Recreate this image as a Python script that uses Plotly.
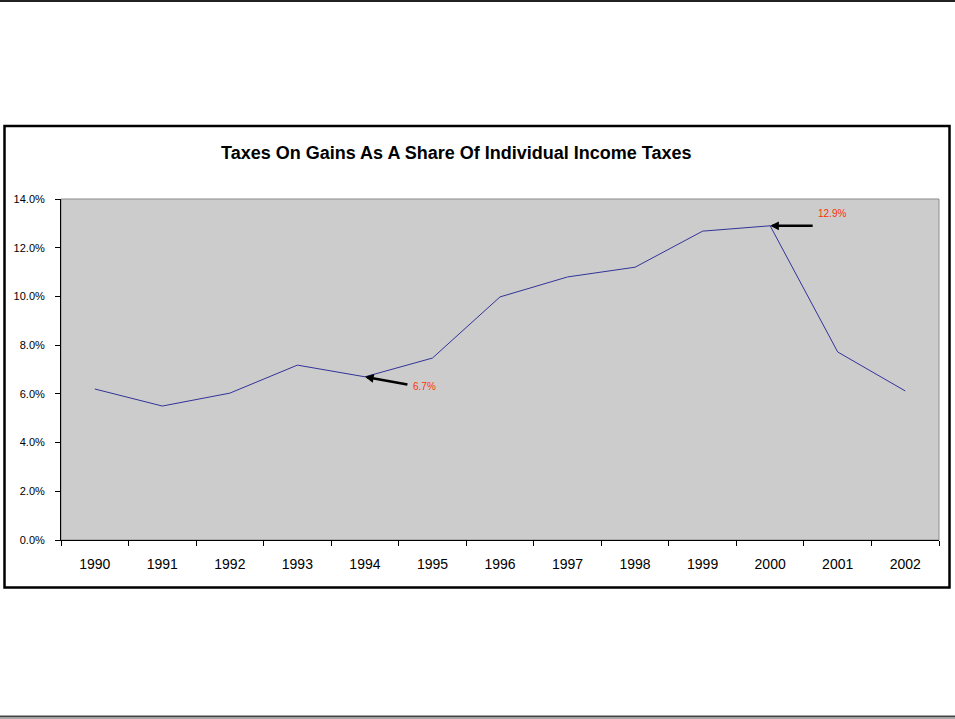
import plotly.graph_objects as go

# Capital gains taxes as a share of individual income taxes, by year
years = ["1990", "1991", "1992", "1993", "1994", "1995", "1996",
         "1997", "1998", "1999", "2000", "2001", "2002"]
share_pct = [6.2, 5.5, 6.03, 7.18, 6.7, 7.47, 9.98,
             10.8, 11.2, 12.68, 12.9, 7.72, 6.12]

y_ticks_pct = [0, 2, 4, 6, 8, 10, 12, 14]

# Points called out with arrows: (year, value, arrow offset x, arrow offset y, text shift x, text shift y)
callouts = [("1994", 6.7, 44, 8, 60, -10), ("2000", 12.9, 44, 0, 62, 12)]

W, H = 955, 719
L, R, T, B = 61, 939, 199, 540  # plot area in pixels
pw, ph = R - L, B - T

def px(x):
    return (x - L) / pw

def py(y):
    return (B - y) / ph

FONT = "Arial, Liberation Sans, sans-serif"

fig = go.Figure()
fig.add_trace(go.Scatter(
    x=years,
    y=[v / 100 for v in share_pct],
    mode="lines",
    line=dict(color="#333399", width=1),
    hoverinfo="x+y",
))

shapes = [
    # page rules at top and bottom
    dict(type="line", xref="paper", yref="paper", x0=px(0), x1=px(W), y0=py(1), y1=py(1),
         line=dict(color="#222222", width=2)),
    dict(type="line", xref="paper", yref="paper", x0=px(0), x1=px(W), y0=py(716.5), y1=py(716.5),
         line=dict(color="#444444", width=2)),
    dict(type="line", xref="paper", yref="paper", x0=px(0), x1=px(W), y0=py(718.5), y1=py(718.5),
         line=dict(color="#aaaaaa", width=1)),
    # chart frame
    dict(type="rect", xref="paper", yref="paper", x0=px(4.5), x1=px(949.5), y0=py(126), y1=py(587.5),
         line=dict(color="black", width=2.5), fillcolor="rgba(0,0,0,0)", layer="below"),
    # plot area border
    dict(type="rect", xref="paper", yref="paper", x0=0, x1=1, y0=0, y1=1,
         line=dict(color="#8c8c8c", width=1), fillcolor="rgba(0,0,0,0)", layer="below"),
]

annotations = [
    dict(text="<b>Taxes On Gains As A Share Of Individual Income Taxes</b>",
         xref="paper", yref="paper", x=px(456), y=py(153), xanchor="center", yanchor="middle",
         showarrow=False, font=dict(family=FONT, size=18, color="black")),
]
for yr, val, ax, ay, tx, ty in callouts:
    xi = years.index(yr)
    annotations.append(dict(
        x=xi, y=val / 100, xref="x", yref="y", text="", showarrow=True,
        ax=ax, ay=ay, arrowhead=2, arrowsize=0.7, arrowwidth=2.5, arrowcolor="black", standoff=0,
    ))
    annotations.append(dict(
        x=xi, y=val / 100, xref="x", yref="y", text=f"{val:.1f}%", showarrow=False,
        xshift=tx, yshift=ty, xanchor="center", yanchor="middle",
        font=dict(family=FONT, size=10, color="#ff3300"),
    ))

fig.update_layout(
    width=W, height=H,
    margin=dict(l=L, r=W - R, t=T, b=H - B, pad=0),
    paper_bgcolor="white",
    plot_bgcolor="#cccccc",
    showlegend=False,
    shapes=shapes,
    annotations=annotations,
    xaxis=dict(
        type="category", range=[-0.5, len(years) - 0.5], tickson="boundaries",
        ticks="outside", ticklen=5, tickcolor="black", tickangle=0, ticklabelstandoff=11,
        showline=True, linecolor="black", linewidth=1, showgrid=False, zeroline=False,
        tickfont=dict(family=FONT, size=14, color="black"), fixedrange=True,
    ),
    yaxis=dict(
        range=[0, 0.14], tickvals=[v / 100 for v in y_ticks_pct], tickformat=".1%",
        ticks="outside", ticklen=5, tickcolor="black", ticklabelstandoff=8,
        showline=True, linecolor="black", linewidth=1, showgrid=False, zeroline=False,
        tickfont=dict(family=FONT, size=11, color="black"), fixedrange=True,
    ),
)

fig.write_html("out.html")
